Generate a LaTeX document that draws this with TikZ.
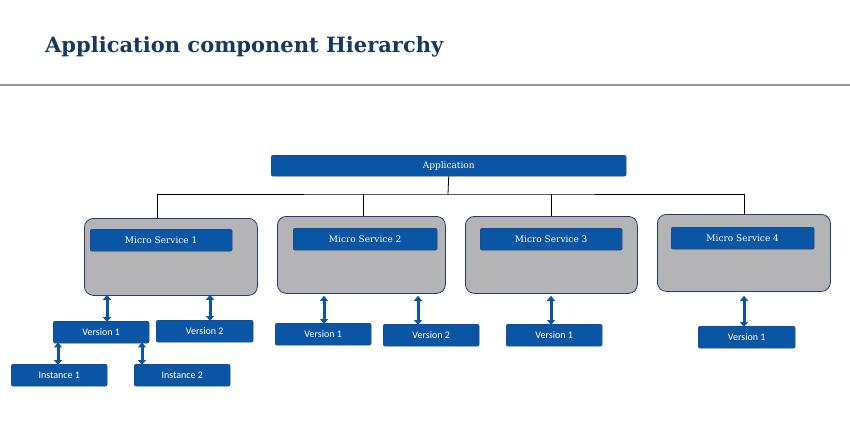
\documentclass[tikz,border=0pt]{standalone}
\usepackage{fontspec}
\setmainfont{DejaVu Serif}
\newfontfamily\sansf{Carlito}
\usetikzlibrary{arrows.meta}
\definecolor{bl}{HTML}{0B56A4}
\definecolor{bd}{HTML}{1E3F6E}
\definecolor{ttl}{HTML}{163A5F}
\definecolor{gr}{HTML}{B4B4B6}
\tikzset{
 lbl/.style={fill=bl,draw=bd,rounded corners=2pt,text=white,inner sep=0pt,font=\fontsize{9}{10}\selectfont},
 ver/.style={lbl,font=\sansf\fontsize{10}{11}\selectfont},
 ms/.style={fill=gr,draw=bd,line width=0.8pt,rounded corners=9pt,inner sep=0pt},
 dar/.style={bl,line width=3pt,{Triangle[width=8pt,length=5pt]}-{Triangle[width=8pt,length=5pt]},shorten <=-1pt,shorten >=-1pt},
 tree/.style={black,line width=0.8pt}
}
\newcommand{\bx}[6]{\node[#1,minimum width=#4pt-#2pt,minimum height=#5pt-#3pt,anchor=north west] (#6) at (#2pt,-#3pt) {};}
\begin{document}
\begin{tikzpicture}
\useasboundingbox[fill=white] (0,0) rectangle (850pt,-447pt);
\node[anchor=base west,text=ttl,font=\bfseries\fontsize{21}{24}\selectfont,inner sep=0pt] (title) at (45pt,-52pt) {Application component Hierarchy};
\coordinate (l1) at (0,-85pt); \coordinate (l2) at (850pt,-85pt);
\draw[gray!80,line width=2pt] (l1) -- (l2);
\node[lbl,minimum width=355pt,minimum height=21pt,anchor=north west] (app) at (271pt,-155pt) {Application};
% MS boxes
\node[ms,minimum width=173pt,minimum height=77pt,anchor=north west] (ms1) at (84pt,-218pt) {};
\node[ms,minimum width=168pt,minimum height=77pt,anchor=north west] (ms2) at (277pt,-216pt) {};
\node[ms,minimum width=172pt,minimum height=77pt,anchor=north west] (ms3) at (465pt,-216pt) {};
\node[ms,minimum width=173pt,minimum height=77pt,anchor=north west] (ms4) at (657pt,-214pt) {};
\node[lbl,minimum width=142pt,minimum height=22pt,anchor=north west] (m1) at (90pt,-229pt) {Micro Service 1};
\node[lbl,minimum width=144pt,minimum height=22pt,anchor=north west] (m2) at (293pt,-228pt) {Micro Service 2};
\node[lbl,minimum width=142pt,minimum height=22pt,anchor=north west] (m3) at (480pt,-228pt) {Micro Service 3};
\node[lbl,minimum width=143pt,minimum height=22pt,anchor=north west] (m4) at (671pt,-227pt) {Micro Service 4};
% tree
\coordinate (h) at (448pt,-194pt);
\draw[tree] (app.south) -- (h);
\draw[tree] (ms1.north -| 157pt,0) |- (h) -| (ms4.north -| 744pt,0);
\draw[tree] (ms2.north -| 363pt,0) -- (363pt,-194pt);
\draw[tree] (ms3.north -| 551pt,0) -- (551pt,-194pt);
% versions
\node[ver,minimum width=96pt,minimum height=22pt,anchor=north west] (v11) at (53pt,-321pt) {Version 1};
\node[ver,minimum width=97pt,minimum height=22pt,anchor=north west] (v12) at (156pt,-320pt) {Version 2};
\node[ver,minimum width=96pt,minimum height=22pt,anchor=north west] (i1) at (11pt,-364pt) {Instance 1};
\node[ver,minimum width=96pt,minimum height=22pt,anchor=north west] (i2) at (134pt,-364pt) {Instance 2};
\node[ver,minimum width=96pt,minimum height=22pt,anchor=north west] (v21) at (275pt,-323pt) {Version 1};
\node[ver,minimum width=96pt,minimum height=22pt,anchor=north west] (v22) at (383pt,-324pt) {Version 2};
\node[ver,minimum width=96pt,minimum height=22pt,anchor=north west] (v31) at (506pt,-324pt) {Version 1};
\node[ver,minimum width=97pt,minimum height=22pt,anchor=north west] (v41) at (698pt,-326pt) {Version 1};
% arrows
\draw[dar] (ms1.south -| 107pt,0) -- (v11.north -| 107pt,0);
\draw[dar] (ms1.south -| 210pt,0) -- (v12.north -| 210pt,0);
\draw[dar] (v11.south -| 58pt,0) -- (i1.north -| 58pt,0);
\draw[dar] (v11.south -| 142pt,0) -- (i2.north -| 142pt,0);
\draw[dar] ([yshift=-3pt]ms2.south -| 324pt,0) -- (v21.north -| 324pt,0);
\draw[dar] ([yshift=-3pt]ms2.south -| 418pt,0) -- (v22.north -| 418pt,0);
\draw[dar] ([yshift=-3pt]ms3.south -| 551pt,0) -- (v31.north -| 551pt,0);
\draw[dar] ([yshift=-5pt]ms4.south -| 744pt,0) -- (v41.north -| 744pt,0);
\end{tikzpicture}
\end{document}
